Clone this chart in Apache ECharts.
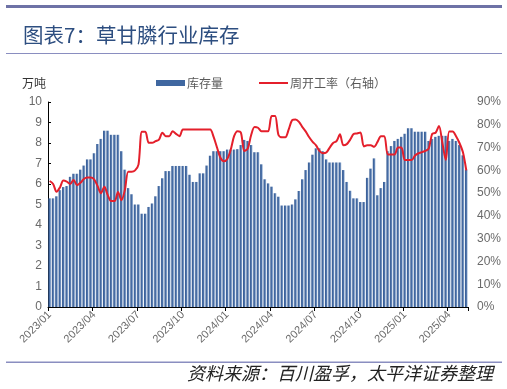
<!DOCTYPE html>
<html>
<head>
<meta charset="utf-8">
<script src="https://cdn.jsdelivr.net/npm/echarts@6/dist/echarts.min.js"></script>
<style>
html,body{margin:0;padding:0;background:#fff;}
#c{width:507px;height:389px;}
</style>
</head>
<body>
<div id="c"></div>
<script>
// Weekly categories starting 2023-01-06 (123 weeks)
const startDate = '2023-01-06';
const weekCount = 123;
const tickLabels = ['2023/01','2023/04','2023/07','2023/10','2024/01','2024/04','2024/07','2024/10','2025/01','2025/04'];

// 库存量 (万吨)
const inventory = [
  5.3, 5.3, 5.4, 5.7, 5.85, 5.9, 6.35, 6.5, 6.5, 6.7,
  6.9, 7.2, 7.2, 7.5, 7.95, 8.2, 8.6, 8.6, 8.4, 8.4,
  8.4, 7.6, 6.7, 5.8, 5.5, 5.0, 5.0, 4.55, 4.55, 4.88,
  5.05, 5.4, 5.9, 6.28, 6.63, 6.63, 6.88, 6.88, 6.88, 6.88,
  6.88, 6.45, 6.1, 6.1, 6.52, 6.52, 6.9, 7.38, 7.6, 7.6,
  7.6, 7.6, 7.68, 7.68, 7.68, 7.7, 7.9, 8.15, 8.1, 7.9,
  7.55, 7.55, 6.96, 6.23, 6.03, 5.87, 5.55, 5.38, 4.95, 4.95,
  4.95, 5.0, 5.25, 5.66, 6.23, 6.68, 7.05, 7.43, 7.74, 7.74,
  7.6, 7.2, 7.05, 7.05, 7.05, 7.05, 6.68, 6.1, 5.67, 5.3,
  5.3, 5.12, 5.12, 6.3, 6.75, 7.25, 5.45, 5.8, 6.1, 7.6,
  7.85, 8.1, 8.2, 8.3, 8.45, 8.72, 8.72, 8.55, 8.55, 8.55,
  8.55, 8.1, 8.2, 8.3, 8.35, 8.35, 8.35, 8.1, 8.2, 8.1,
  7.9, 7.4, 6.7
];

// 周开工率 (%)
const operatingRate = [
  55.3, 54, 50.6, 52.5, 55.5, 55, 54, 55.8, 53.5, 54.5,
  56.2, 56.8, 56.8, 56, 53.2, 49.9, 52.8, 49.1, 46.5, 46.5,
  50.5, 46.9, 51.3, 59.4, 59.4, 60, 62.5, 76.9, 76.9, 72.1,
  72.1, 72.8, 73.5, 76.5, 75, 75, 77.2, 76, 75, 77.9,
  77.9, 77.9, 77.9, 77.9, 77.9, 77.9, 77.9, 77.9, 74.7, 70,
  65.5, 64, 65, 69, 75, 77.2, 76.5, 68.5, 69.5, 75.5,
  79, 78.7, 77.2, 77.2, 77.2, 83.8, 83.8, 75.5, 74.5, 74.5,
  78, 82, 82.3, 81.3, 79, 77, 74.5, 72.5, 71, 68.5,
  67.5, 67.8, 70, 72, 72.8, 75.8, 71, 71.5, 73.5, 75.9,
  76.2, 76.6, 70.5, 71, 71, 70.3, 72.5, 75, 75, 67,
  67, 67, 70, 70, 64.5, 64.5, 64.5, 66.5, 67.5, 68,
  68.5, 69.5, 76, 76.5, 79.5, 72, 64.5, 77, 77, 75,
  72, 68, 60
];

const categories = [];
(function(){
  const d0 = new Date(startDate + 'T00:00:00Z');
  for (let i = 0; i < weekCount; i++) {
    const d = new Date(d0.getTime() + i * 7 * 86400000);
    const m = String(d.getUTCMonth() + 1).padStart(2, '0');
    const dd = String(d.getUTCDate()).padStart(2, '0');
    categories.push(d.getUTCFullYear() + '/' + m + '/' + dd);
  }
})();

const chart = echarts.init(document.getElementById('c'), null, {renderer: 'canvas'});
const axisFont = 'Liberation Sans, Arial, sans-serif';
const cjk = '"Noto Sans CJK SC", sans-serif';

chart.setOption({
  animation: false,
  backgroundColor: '#fff',
  title: {
    text: '图表7：草甘膦行业库存',
    left: 18, top: 20,
    textStyle: {fontFamily: cjk, fontSize: 20.5, fontWeight: 'normal', color: '#2d4e80'}
  },
  legend: [
    {
      top: 72, left: 151,
      itemWidth: 29, itemHeight: 6,
      textStyle: {fontFamily: cjk, fontSize: 12, color: '#595959', padding: [0,0,0,-3]},
      data: [{name: '库存量', icon: 'rect', itemStyle: {color: '#3f67a0'}}]
    },
    {
      top: 72, left: 254,
      itemWidth: 29, itemHeight: 2,
      textStyle: {fontFamily: cjk, fontSize: 12, color: '#595959', padding: [0,0,0,-3]},
      data: [{name: '周开工率（右轴）', icon: 'rect', itemStyle: {color: '#e41f2b'}}]
    }
  ],
  grid: {left: 48, right: 39, top: 102, bottom: 82, containLabel: false},
  xAxis: {
    type: 'category',
    data: categories,
    boundaryGap: true,
    axisLine: {lineStyle: {color: '#000', width: 1}},
    axisTick: {show: true, interval: function(i){ return i % 13 === 0; }, length: 4, lineStyle: {color: '#000'}},
    axisLabel: {
      interval: function(i){ return i % 13 === 0; },
      rotate: 45,
      margin: 6,
      color: '#6a6a6a',
      fontFamily: axisFont,
      fontSize: 11,
      formatter: function(v, i){ return tickLabels[Math.round(i / 13)] || ''; }
    },
    splitLine: {show: false}
  },
  yAxis: [
    {
      type: 'value', min: 0, max: 10, interval: 1,
      axisLine: {show: true, lineStyle: {color: '#000'}},
      axisTick: {show: true, inside: true, length: 3, lineStyle: {color: '#000'}},
      axisLabel: {color: '#6a6a6a', fontFamily: axisFont, fontSize: 12, margin: 6},
      splitLine: {show: false}
    },
    {
      type: 'value', min: 0, max: 90, interval: 10, position: 'right',
      axisLine: {show: false},
      axisTick: {show: false},
      axisLabel: {color: '#6a6a6a', fontFamily: axisFont, fontSize: 12, margin: 9, formatter: '{value}%'},
      splitLine: {show: false}
    }
  ],
  graphic: [
    {type: 'rect', shape: {x: 6, y: 5, width: 496, height: 3}, style: {fill: '#6e72a6'}, silent: true},
    {type: 'rect', shape: {x: 6, y: 53, width: 496, height: 1}, style: {fill: '#8a8ec0'}, silent: true},
    {type: 'rect', shape: {x: 6, y: 361.5, width: 496, height: 1.5}, style: {fill: '#8a8ec0'}, silent: true},
    {type: 'text', left: 22, top: 77, style: {text: '万吨', font: '12px "Noto Sans CJK SC", sans-serif', fill: '#333'}, silent: true},
    {type: 'text', right: 14, top: 364, style: {text: '资料来源：百川盈孚，太平洋证券整理', font: 'italic 18px "Noto Sans CJK SC", sans-serif', fill: '#222'}, silent: true}
  ],
  series: [
    {
      name: '库存量',
      type: 'bar',
      yAxisIndex: 0,
      data: inventory,
      barCategoryGap: '22%',
      itemStyle: {
        color: {type: 'linear', x: 0, y: 0, x2: 1, y2: 0,
          colorStops: [{offset: 0, color: '#355a92'}, {offset: 0.55, color: '#4a70a8'}, {offset: 1, color: '#b0c5e0'}]}
      }
    },
    {
      name: '周开工率（右轴）',
      type: 'line',
      yAxisIndex: 1,
      data: operatingRate,
      smooth: 0.3,
      symbol: 'none',
      lineStyle: {color: '#e41f2b', width: 2},
      itemStyle: {color: '#e41f2b'}
    }
  ]
});
</script>
</body>
</html>
